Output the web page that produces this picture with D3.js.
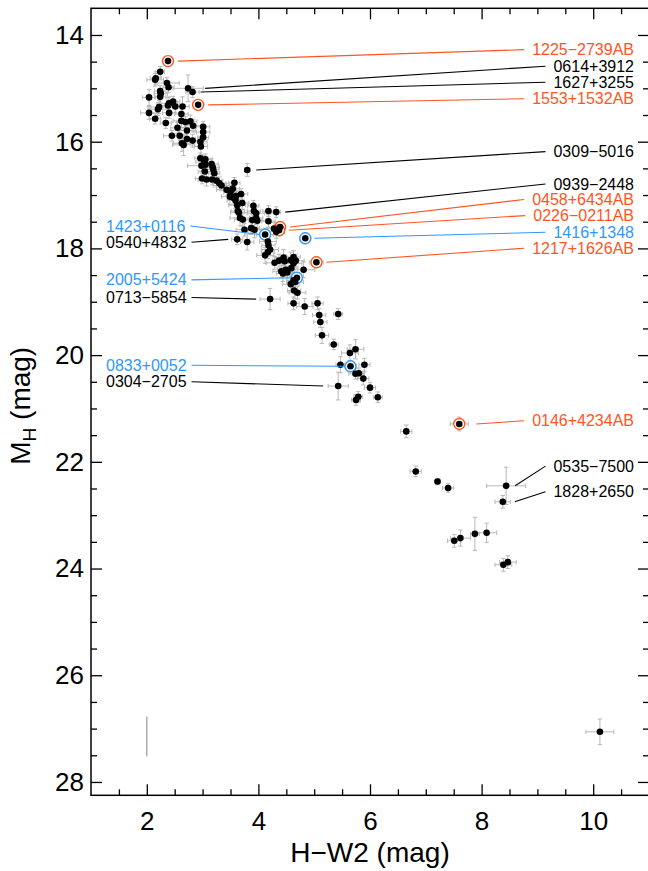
<!DOCTYPE html>
<html><head><meta charset="utf-8">
<script src="https://cdn.jsdelivr.net/npm/d3@7"></script>
<style>
html,body{margin:0;padding:0;background:#fff;}
svg{display:block;font-family:"Liberation Sans",Arial,Helvetica,sans-serif;}
</style></head>
<body><svg id="c" width="648" height="871"></svg>
<script>
// ---- data ----
const hw2 = [2.38,2.24,2.16,2.15,2.36,2.39,2.74,2.82,2.24,2.25,2.24,2.04,2.92,2.40,2.47,2.38,2.51,2.64,2.22,2.20,
 2.04,2.40,2.62,2.15,2.62,2.69,2.78,2.34,2.83,3.01,2.55,2.72,3.01,2.45,2.59,3.01,2.72,2.82,2.63,2.66,
 2.96,2.97,2.96,3.05,3.80,3.03,3.05,3.16,2.98,3.18,3.19,3.04,3.21,2.99,3.07,3.17,3.25,3.30,3.34,3.57,
 3.54,3.43,3.50,3.49,3.60,3.55,3.69,3.59,3.71,3.62,3.63,3.65,3.91,3.92,4.18,4.32,3.96,3.67,3.72,3.96,
 3.98,3.89,4.18,3.87,3.93,3.75,3.62,3.80,4.12,4.39,4.37,4.28,4.32,4.84,4.17,4.18,4.21,4.17,4.12,5.04,
 4.29,4.37,4.47,4.58,4.63,4.67,4.59,4.49,4.52,4.41,4.44,4.81,4.69,4.66,4.58,4.63,4.64,4.70,4.45,4.63,
 4.21,4.63,4.83,5.06,5.43,5.09,5.11,5.14,5.35,5.74,5.64,5.47,5.65,5.90,5.74,5.80,5.88,5.43,6.00,5.79,
 5.75,6.14,6.65,7.60,6.82,7.21,7.40,8.44,8.38,7.51,7.62,7.88,8.09,8.39,8.47,10.12];
const mH = [14.49,14.69,14.81,14.84,14.90,14.98,15.00,15.07,15.05,15.10,15.16,15.17,15.31,15.28,15.25,15.32,15.34,15.34,15.35,15.39,
 15.46,15.46,15.48,15.57,15.61,15.63,15.62,15.65,15.70,15.72,15.74,15.79,15.82,15.89,15.89,15.92,15.95,15.98,16.03,16.06,
 16.00,16.09,16.31,16.33,16.53,16.38,16.43,16.42,16.45,16.48,16.52,16.56,16.59,16.69,16.71,16.71,16.73,16.78,16.82,16.77,
 16.88,16.90,16.95,17.03,17.02,17.05,16.98,17.10,17.15,17.19,17.30,17.33,17.20,17.30,17.30,17.32,17.34,17.43,17.46,17.43,
 17.48,17.47,17.49,17.62,17.65,17.65,17.83,17.88,17.74,17.60,17.66,17.63,17.69,17.81,17.87,17.94,18.02,18.07,18.13,18.26,
 18.27,18.23,18.24,18.22,18.28,18.23,18.37,18.40,18.45,18.43,18.47,18.40,18.55,18.63,18.67,18.60,18.79,18.83,18.17,18.16,
 18.95,19.03,19.09,19.03,19.23,19.25,19.38,19.63,19.80,19.89,19.96,20.18,20.21,20.18,20.35,20.34,20.44,20.58,20.61,20.78,
 20.84,20.79,21.43,21.29,22.18,22.37,22.49,22.45,22.75,23.48,23.43,23.35,23.33,23.93,23.88,27.06];
const hw2Err = [0.06,0.08,0.10,0.15,0.22,0.10,0.27,0.12,0.10,0.12,0.10,0.12,0.10,0.15,0.12,0.20,0.15,0.12,0.15,0.18,
 0.15,0.12,0.12,0.10,0.15,0.15,0.12,0.10,0.15,0.12,0.12,0.15,0.12,0.15,0.12,0.10,0.15,0.12,0.15,0.20,
 0.12,0.12,0.10,0.12,0.05,0.15,0.10,0.12,0.25,0.12,0.10,0.12,0.10,0.12,0.15,0.12,0.10,0.12,0.15,0.10,
 0.12,0.18,0.12,0.15,0.12,0.10,0.12,0.15,0.12,0.15,0.12,0.15,0.10,0.12,0.10,0.08,0.15,0.18,0.15,0.12,
 0.15,0.12,0.12,0.15,0.12,0.15,0.10,0.12,0.15,0.08,0.08,0.12,0.15,0.10,0.15,0.12,0.15,0.12,0.15,0.12,
 0.15,0.12,0.15,0.12,0.15,0.15,0.12,0.15,0.12,0.15,0.12,0.20,0.10,0.15,0.15,0.12,0.12,0.15,0.15,0.12,
 0.18,0.10,0.15,0.10,0.08,0.12,0.12,0.12,0.08,0.15,0.15,0.08,0.10,0.10,0.12,0.10,0.10,0.18,0.10,0.08,
 0.08,0.08,0.10,0.16,0.10,0.05,0.10,0.35,0.14,0.12,0.18,0.08,0.18,0.15,0.15,0.25];
const mHErr = [0.09,0.10,0.12,0.12,0.10,0.10,0.25,0.10,0.10,0.10,0.12,0.15,0.10,0.12,0.10,0.15,0.12,0.18,0.12,0.12,
 0.12,0.10,0.12,0.10,0.12,0.10,0.12,0.10,0.12,0.10,0.10,0.12,0.12,0.10,0.12,0.12,0.10,0.12,0.15,0.20,
 0.10,0.15,0.10,0.10,0.12,0.12,0.10,0.10,0.10,0.10,0.10,0.15,0.12,0.10,0.12,0.10,0.12,0.12,0.10,0.10,
 0.12,0.12,0.10,0.15,0.10,0.12,0.10,0.15,0.12,0.12,0.15,0.12,0.10,0.12,0.10,0.10,0.12,0.15,0.12,0.12,
 0.15,0.10,0.12,0.12,0.15,0.12,0.10,0.15,0.12,0.10,0.10,0.12,0.12,0.10,0.15,0.12,0.12,0.12,0.15,0.10,
 0.12,0.12,0.12,0.15,0.12,0.12,0.15,0.12,0.12,0.12,0.15,0.15,0.10,0.12,0.15,0.12,0.15,0.12,0.15,0.12,
 0.20,0.12,0.15,0.12,0.10,0.12,0.10,0.15,0.10,0.18,0.15,0.15,0.10,0.12,0.10,0.10,0.12,0.26,0.10,0.10,
 0.10,0.10,0.12,0.13,0.10,0.06,0.08,0.35,0.12,0.12,0.15,0.31,0.18,0.12,0.12,0.24];

// named objects
const annoNames = ["1225\u22122739AB","0614+3912","1627+3255","1553+1532AB","0309\u22125016","0939\u22122448",
 "0458+6434AB","0226\u22120211AB","1416+1348","1217+1626AB","0146+4234AB","0535\u22127500","1828+2650",
 "1423+0116","0540+4832","2005+5424","0713\u22125854","0833+0052","0304\u22122705"];
const annoGroup = ["binary","other","other","binary","other","other","binary","binary","blue","binary","binary","other","other",
 "blue","other","blue","other","blue","other"];
const annoX = [2.38,2.74,2.82,2.92,3.80,4.32,4.39,4.37,4.84,5.04,7.60,8.44,8.38,4.12,3.62,4.69,4.21,5.65,5.43];
const annoY = [14.49,15.00,15.07,15.31,16.53,17.32,17.60,17.66,17.81,18.26,21.29,22.45,22.75,17.74,17.83,18.55,18.95,20.21,20.58];

const xMajorTicks = [2,4,6,8,10];
const yMajorTicks = [14,16,18,20,22,24,26,28];
const sysErrX = 2, sysErrY = [26.78, 27.52];

// ---- layout ----
const labelSide = ["r","r","r","r","r","r","r","r","r","r","r","r","r","l","l","l","l","l","l"];
const labelAt = [14.275,14.585,14.886,15.194,16.187,16.792,17.083,17.385,17.698,17.997,21.23,22.08,22.56,
 17.58,17.885,18.59,18.92,20.19,20.50];
const lineGap = [10,17,8,10,9,9,10,10,9,10,17,9,12,5,9,6,14,6,15];
const colors = {binary:"#ff5522", blue:"#2f97ff", other:"#000000"};

const svg = d3.select("#c");
const L=91, R=649, T=8.3, B=795.3;
const x = d3.scaleLinear().domain([1,11]).range([L,R]);
const y = d3.scaleLinear().domain([13.5,28.25]).range([T,B]);

const xMinor = d3.range(1.5,11,0.5).filter(v=>!xMajorTicks.includes(v));
const yMinor = d3.range(14,28.25,0.5).filter(v=>!yMajorTicks.includes(v));

function axisStyle(g){ g.select(".domain").remove(); g.selectAll("line").attr("stroke","#000").attr("stroke-width",1.3); }

svg.append("g").attr("transform",`translate(0,${B})`)
  .call(d3.axisBottom(x).tickValues(xMajorTicks).tickSizeInner(-11).tickSizeOuter(0).tickPadding(16).tickFormat(d3.format("d")))
  .call(axisStyle).call(g=>g.selectAll("text").attr("font-size",26).attr("fill","#000").attr("font-family",null));
svg.append("g").attr("transform",`translate(0,${B})`)
  .call(d3.axisBottom(x).tickValues(xMinor).tickSizeInner(-6).tickSizeOuter(0).tickFormat(""))
  .call(axisStyle);
svg.append("g").attr("transform",`translate(0,${T})`)
  .call(d3.axisTop(x).tickValues(xMajorTicks).tickSizeInner(-11).tickSizeOuter(0).tickFormat(""))
  .call(axisStyle);
svg.append("g").attr("transform",`translate(0,${T})`)
  .call(d3.axisTop(x).tickValues(xMinor).tickSizeInner(-6).tickSizeOuter(0).tickFormat(""))
  .call(axisStyle);
svg.append("g").attr("transform",`translate(${L},0)`)
  .call(d3.axisLeft(y).tickValues(yMajorTicks).tickSizeInner(-11).tickSizeOuter(0).tickPadding(7).tickFormat(d3.format("d")))
  .call(axisStyle).call(g=>g.selectAll("text").attr("font-size",26).attr("fill","#000").attr("font-family",null));
svg.append("g").attr("transform",`translate(${L},0)`)
  .call(d3.axisLeft(y).tickValues(yMinor).tickSizeInner(-6).tickSizeOuter(0).tickFormat(""))
  .call(axisStyle);
svg.append("g").attr("transform",`translate(${R},0)`)
  .call(d3.axisRight(y).tickValues(yMajorTicks).tickSizeInner(-11).tickSizeOuter(0).tickFormat(""))
  .call(axisStyle);
svg.append("g").attr("transform",`translate(${R},0)`)
  .call(d3.axisRight(y).tickValues(yMinor).tickSizeInner(-6).tickSizeOuter(0).tickFormat(""))
  .call(axisStyle);

svg.append("rect").attr("x",L).attr("y",T).attr("width",R-L).attr("height",B-T)
  .attr("fill","none").attr("stroke","#000").attr("stroke-width",1.5);

svg.append("text").attr("x",(L+R)/2).attr("y",862).attr("text-anchor","middle")
  .attr("font-size",28).text("H\u2212W2 (mag)");
const yt = svg.append("text").attr("transform",`translate(30,${(T+B)/2+4}) rotate(-90)`)
  .attr("text-anchor","middle").attr("font-size",28);
yt.append("tspan").text("M");
yt.append("tspan").attr("font-size",19).attr("dy",6).text("H");
yt.append("tspan").attr("dy",-6).text(" (mag)");

const pts = hw2.map((v,i)=>({x:v,y:mH[i],xe:hw2Err[i],ye:mHErr[i]}));
const eg = svg.append("g").attr("stroke","#b8b8b8").attr("stroke-width",1).attr("fill","none");
const cap=2.2;
pts.forEach(p=>{
  const px=x(p.x), py=y(p.y), x0=x(p.x-p.xe), x1=x(p.x+p.xe), y0=y(p.y-p.ye), y1=y(p.y+p.ye);
  eg.append("line").attr("x1",x0).attr("x2",x1).attr("y1",py).attr("y2",py);
  eg.append("line").attr("x1",x0).attr("x2",x0).attr("y1",py-cap).attr("y2",py+cap);
  eg.append("line").attr("x1",x1).attr("x2",x1).attr("y1",py-cap).attr("y2",py+cap);
  eg.append("line").attr("x1",px).attr("x2",px).attr("y1",y0).attr("y2",y1);
  eg.append("line").attr("x1",px-cap).attr("x2",px+cap).attr("y1",y0).attr("y2",y0);
  eg.append("line").attr("x1",px-cap).attr("x2",px+cap).attr("y1",y1).attr("y2",y1);
});
svg.append("line").attr("x1",x(sysErrX)).attr("x2",x(sysErrX)).attr("y1",y(sysErrY[0])).attr("y2",y(sysErrY[1]))
  .attr("stroke","#999").attr("stroke-width",1.2);

const annos = annoNames.map((n,i)=>({name:n,c:colors[annoGroup[i]],g:annoGroup[i],x:annoX[i],y:annoY[i],side:labelSide[i],ly:labelAt[i],gap:lineGap[i]}));
svg.append("g").selectAll("circle").data(annos.filter(a=>a.g!=="other")).join("circle")
  .attr("cx",d=>x(d.x)).attr("cy",d=>y(d.y)).attr("r",5.5)
  .attr("fill","#fff").attr("stroke",d=>d.c).attr("stroke-width",1.4);

svg.append("g").selectAll("circle").data(pts).join("circle")
  .attr("cx",d=>x(d.x)).attr("cy",d=>y(d.y)).attr("r",3.3).attr("fill","#000");

const lg = svg.append("g");
annos.forEach(a=>{
  const t = lg.append("text").attr("font-size",16).attr("fill",a.c).attr("dy","0.35em")
    .attr("y",y(a.ly)).text(a.name);
  const px=x(a.x), py=y(a.y);
  if(a.side==="r"){
    t.attr("x",634).attr("text-anchor","end");
    const w=t.node().getComputedTextLength();
    lg.append("line").attr("x1",px+a.gap).attr("y1",py).attr("x2",634-w-8).attr("y2",y(a.ly))
      .attr("stroke",a.c).attr("stroke-width",1.1);
  } else {
    t.attr("x",106).attr("text-anchor","start");
    const w=t.node().getComputedTextLength();
    lg.append("line").attr("x1",106+w+5).attr("y1",y(a.ly)).attr("x2",px-a.gap).attr("y2",py)
      .attr("stroke",a.c).attr("stroke-width",1.1);
  }
});
</script></body></html>
